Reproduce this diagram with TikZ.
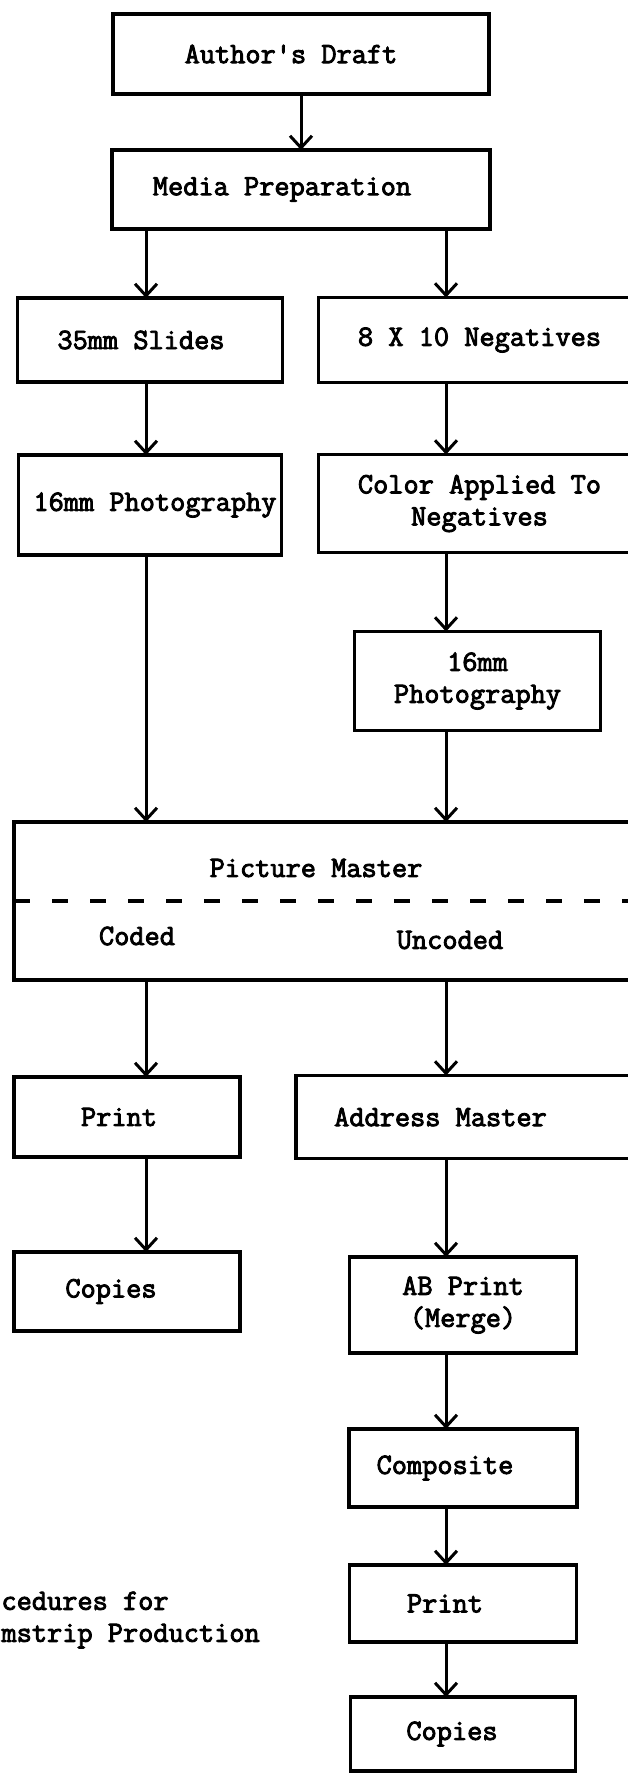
\documentclass[tikz,border=0pt]{standalone}
\usepackage{fontspec}
\setmonofont{Latin Modern Mono}[FakeBold=3]
\usetikzlibrary{arrows.meta,positioning}

% typed labels sit a little off the box centres
\tikzset{nudge/.style={execute at begin node={\hspace*{#1}}}}

\begin{document}
\begin{tikzpicture}[
      x=1pt,y=1pt,
      every node/.style={font=\ttfamily\fontsize{29.5}{32}\selectfont},
      box/.style={draw,rectangle,line width=3.5pt,inner sep=0pt,outer sep=0pt},
      >={Straight Barb[length=12pt,width=22pt]},
      line width=3pt
    ]
      \useasboundingbox (0,0) rectangle (628,-1773);
      % arrow columns
      \coordinate (colL) at (146,0);
      \coordinate (colR) at (446,0);

      \node[box,nudge=-20pt,minimum width=376pt,minimum height=80pt] (draft) at (301,-54) {Author\textquotesingle s Draft};
      \node[box,nudge=-38pt,minimum width=378pt,minimum height=79pt,below=56pt of draft] (prep) {Media Preparation};
      \node[box,nudge=-18pt,minimum width=265pt,minimum height=84pt] (slides) at (150,-340) {35mm Slides};
      \node[box,minimum width=322pt,minimum height=85pt,right=36pt of slides] (neg) {8 X 10 Negatives};
      \node[box,nudge=10pt,minimum width=263pt,minimum height=100pt,below=73pt of slides] (photoL) {16mm Photography};
      \node[box,align=center,minimum width=322pt,minimum height=98pt,below=72pt of neg] (color) {Color Applied To\\Negatives};
      \node[box,align=center,minimum width=246pt,minimum height=99pt,below=79pt of color,xshift=-2pt] (photoR) {16mm\\Photography};

      % master box, split by a dashed rule
      \node[box,minimum width=630pt,minimum height=158pt] (master) at (329,-901) {};
      \draw[line width=3.5pt,dash pattern=on 16pt off 22pt] (master.west) -- (master.east);
      \node (pm) at (316,-868) {Picture Master};
      \node (coded) at (137,-936) {Coded};
      \node (uncoded) at (450,-940) {Uncoded};

      \node[box,nudge=-16pt,minimum width=226pt,minimum height=80pt] (printL) at (127,-1117) {Print};
      \node[box,nudge=-60pt,minimum width=349pt,minimum height=83pt,right=56pt of printL] (addr) {Address Master};
      \node[box,nudge=-32pt,minimum width=226pt,minimum height=79pt,below=95pt of printL] (copiesL) {Copies};
      \node[box,align=center,minimum width=227pt,minimum height=96pt] (abprint) at (463,-1305) {AB Print\\(Merge)};
      \node[box,nudge=-36pt,minimum width=228pt,minimum height=78pt,below=76pt of abprint] (comp) {Composite};
      \node[box,nudge=-36pt,minimum width=227pt,minimum height=77pt,below=58pt of comp] (printR) {Print};
      \node[box,nudge=-22pt,minimum width=225pt,minimum height=74pt,below=55pt of printR] (copiesR) {Copies};

      \node[align=left,anchor=west,inner sep=0pt] (caption) at (0,-1620) {cedures for\\mstrip Production};

      \draw[->] (draft.south) -- (draft.south |- prep.north);
      \draw[->] (prep.south -| colL) -- (slides.north -| colL);
      \draw[->] (prep.south -| colR) -- (neg.north -| colR);
      \draw[->] (slides.south -| colL) -- (photoL.north -| colL);
      \draw[->] (neg.south -| colR) -- (color.north -| colR);
      \draw[->] (color.south -| colR) -- (photoR.north -| colR);
      \draw[->] (photoL.south -| colL) -- (master.north -| colL);
      \draw[->] (photoR.south -| colR) -- (master.north -| colR);
      \draw[->] (master.south -| colL) -- (printL.north -| colL);
      \draw[->] (master.south -| colR) -- (addr.north -| colR);
      \draw[->] (printL.south -| colL) -- (copiesL.north -| colL);
      \draw[->] (addr.south -| colR) -- (abprint.north -| colR);
      \draw[->] (abprint.south -| colR) -- (comp.north -| colR);
      \draw[->] (comp.south -| colR) -- (printR.north -| colR);
      \draw[->] (printR.south -| colR) -- (copiesR.north -| colR);
    \end{tikzpicture}
\end{document}
